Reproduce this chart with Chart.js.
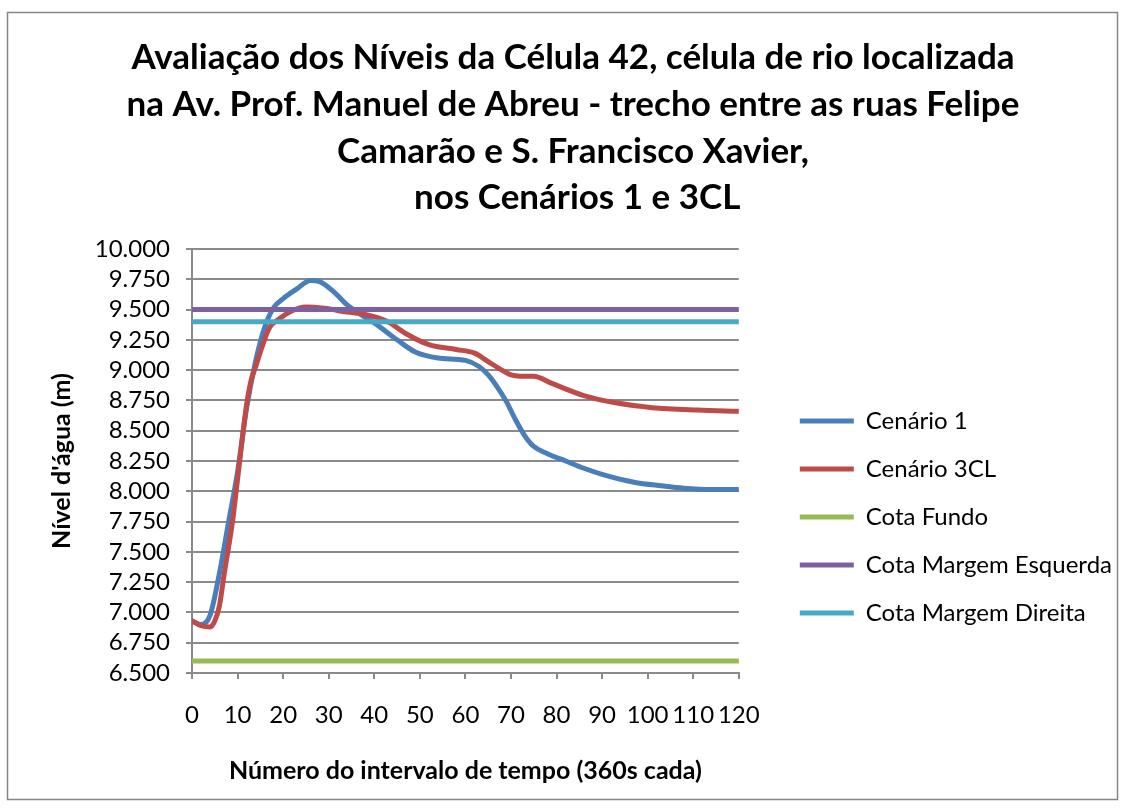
<!DOCTYPE html>
<html>
<head>
<meta charset="utf-8">
<script src="https://cdn.jsdelivr.net/npm/chart.js@4.4.1/dist/chart.umd.min.js"></script>
<style>
  html, body { margin: 0; padding: 0; background: #ffffff; }
  #wrap { width: 1128px; height: 810px; }
</style>
</head>
<body>
<div id="wrap"><canvas id="c" width="1128" height="810"></canvas></div>
<script>
// Intervalos de tempo (360 s cada) e níveis d'água lidos em cada cenário
const intervalosC1 = [0, 2, 4, 6, 8, 10, 12, 14, 16, 18, 20, 23, 26, 28, 31, 34, 37, 40, 45, 49, 54, 60, 63, 65, 67, 69, 71, 73, 75, 78, 82, 86, 90, 97, 103, 108, 114, 120];
const nivelC1 = [6.93, 6.90, 6.98, 7.32, 7.74, 8.16, 8.69, 9.08, 9.36, 9.52, 9.59, 9.67, 9.74, 9.73, 9.65, 9.54, 9.46, 9.39, 9.25, 9.15, 9.10, 9.08, 9.03, 8.96, 8.86, 8.74, 8.59, 8.46, 8.37, 8.31, 8.25, 8.19, 8.14, 8.075, 8.045, 8.025, 8.015, 8.015];

const intervalosC3 = [0, 2, 4, 5, 6, 7, 9, 10, 12, 13, 14, 15, 17, 19, 22, 25, 29, 34, 38, 43, 47, 52, 58, 62, 65, 68, 70, 72, 75, 79, 86, 93, 101, 111, 120];
const nivelC3 = [6.93, 6.89, 6.88, 6.93, 7.05, 7.30, 7.78, 8.10, 8.72, 8.92, 9.03, 9.15, 9.35, 9.42, 9.49, 9.52, 9.51, 9.48, 9.46, 9.40, 9.30, 9.21, 9.17, 9.14, 9.07, 9.00, 8.96, 8.95, 8.95, 8.89, 8.79, 8.73, 8.69, 8.67, 8.66];

// Cotas de referência da célula (constantes ao longo do tempo)
const intervalosCota = [0, 120];
const cotaFundo = [6.60, 6.60];
const cotaMargemEsquerda = [9.50, 9.50];
const cotaMargemDireita = [9.40, 9.40];

const nomesSeries = ['Cenário 1', 'Cenário 3CL', 'Cota Fundo', 'Cota Margem Esquerda', 'Cota Margem Direita'];
const coresSeries = ['#4A7EBB', '#BE4B48', '#98B954', '#7D60A0', '#46AAC5'];

const tituloLinhas = [
  'Avaliação dos Níveis da Célula 42, célula de rio localizada',
  'na Av. Prof. Manuel de Abreu - trecho entre as ruas Felipe',
  'Camarão e S. Francisco Xavier,',
  ' nos Cenários 1 e 3CL'
];
const tituloEixoX = 'Número do intervalo de tempo (360s cada)';
const tituloEixoY = "Nível d'água (m)";

const pares = (xs, ys) => xs.map((x, i) => ({ x: x, y: ys[i] }));

const seriesDados = [
  pares(intervalosC1, nivelC1),
  pares(intervalosC3, nivelC3),
  pares(intervalosCota, cotaFundo),
  pares(intervalosCota, cotaMargemEsquerda),
  pares(intervalosCota, cotaMargemDireita)
];

// Later series are painted over earlier ones
const datasets = seriesDados.map((d, i) => ({
  label: nomesSeries[i],
  data: d,
  borderColor: coresSeries[i],
  backgroundColor: coresSeries[i],
  borderWidth: 5,
  borderCapStyle: 'round',
  borderJoinStyle: 'round',
  pointRadius: 0,
  pointHoverRadius: 0,
  cubicInterpolationMode: 'monotone',
  fill: false,
  order: nomesSeries.length - i
}));

const FONT = 'Lato, "Open Sans", sans-serif';
const GRID = '#8a8a8a';

// Frame around the whole chart
const moldura = {
  id: 'moldura',
  beforeDraw(chart) {
    const ctx = chart.ctx;
    ctx.save();
    ctx.fillStyle = '#ffffff';
    ctx.fillRect(0, 0, chart.width, chart.height);
    ctx.strokeStyle = '#868686';
    ctx.lineWidth = 1.5;
    ctx.strokeRect(7.5, 12.5, 1110, 787);
    ctx.restore();
  }
};

new Chart(document.getElementById('c'), {
  type: 'line',
  data: { datasets: datasets },
  plugins: [moldura],
  options: {
    responsive: false,
    animation: false,
    events: [],
    layout: { padding: { top: 14, left: 24, right: 6, bottom: 12 } },
    scales: {
      x: {
        type: 'linear',
        min: 0,
        max: 120,
        ticks: {
          stepSize: 10,
          autoSkip: false,
          padding: 22,
          color: '#000000',
          font: { family: FONT, size: 24 },
          maxRotation: 0
        },
        grid: { drawOnChartArea: false, drawTicks: true, tickLength: 6, color: GRID, lineWidth: 2 },
        border: { display: true, color: GRID, width: 2 },
        title: {
          display: true,
          text: tituloEixoX,
          color: '#000000',
          font: { family: FONT, size: 25, weight: 'bold' },
          padding: { top: 0, bottom: 12 }
        },
        afterFit(scale) { scale.height = 125; }
      },
      y: {
        type: 'linear',
        min: 6.5,
        max: 10,
        ticks: {
          stepSize: 0.25,
          autoSkip: false,
          padding: 16,
          color: '#000000',
          font: { family: FONT, size: 24 },
          callback: (v) => Number(v).toFixed(3)
        },
        grid: { color: GRID, lineWidth: 2, tickLength: 6 },
        border: { display: true, color: GRID, width: 2 },
        title: {
          display: true,
          text: tituloEixoY,
          color: '#000000',
          font: { family: FONT, size: 25, weight: 'bold' },
          padding: { top: 23, bottom: 0 }
        },
        afterFit(scale) { scale.width = 168; }
      },
      espaco: {
        type: 'linear',
        position: 'right',
        display: true,
        grid: { display: false },
        border: { display: false },
        ticks: { display: false },
        afterFit(scale) { scale.width = 37; }
      }
    },
    plugins: {
      title: {
        display: true,
        text: tituloLinhas,
        color: '#000000',
        font: { family: FONT, size: 35, weight: 'bold', lineHeight: 1.334 },
        padding: { top: 20.6, bottom: 27.6 }
      },
      legend: {
        display: true,
        position: 'right',
        align: 'center',
        fullSize: false,
        maxWidth: 400,
        title: { display: true, text: '', font: { size: 10 }, padding: { top: 100, bottom: 0 } },
        labels: {
          usePointStyle: true,
          pointStyle: 'line',
          pointStyleWidth: 54,
          padding: 24,
          color: '#000000',
          font: { family: FONT, size: 24 },
          sort: (a, b) => a.datasetIndex - b.datasetIndex
        }
      },
      tooltip: { enabled: false }
    }
  }
});
</script>
</body>
</html>
